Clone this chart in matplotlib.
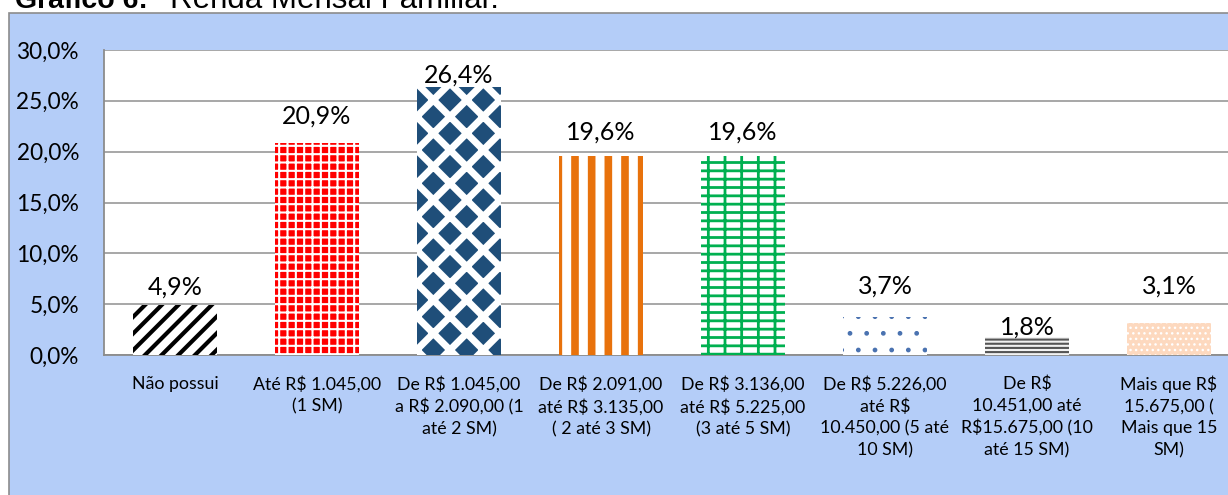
import numpy as np
import matplotlib
matplotlib.use("Agg")
import matplotlib.pyplot as plt
from matplotlib.patches import Rectangle

# data
categories = [
    "Não possui",
    "Até R$ 1.045,00\n(1 SM)",
    "De R$ 1.045,00\na R$ 2.090,00 (1\naté 2 SM)",
    "De R$ 2.091,00\naté R$ 3.135,00\n( 2 até 3 SM)",
    "De R$ 3.136,00\naté R$ 5.225,00\n(3 até 5 SM)",
    "De R$ 5.226,00\naté R$\n10.450,00 (5 até\n10 SM)",
    "De R$\n10.451,00 até\nR$15.675,00 (10\naté 15 SM)",
    "Mais que R$\n15.675,00 (\nMais que 15\nSM)",
]
values = [4.9, 20.9, 26.4, 19.6, 19.6, 3.7, 1.8, 3.1]
yticks = [0, 5, 10, 15, 20, 25, 30]

# styling per bar: facecolor, hatch colour, hatch, hatch linewidth
styles = [
    ("white", "black", "//", 3.0),
    ("#FF0000", "white", "++", 1.5),
    ("#1F4E79", "white", "x", 5.0),
    ("white", "#E8720C", "|", 5.5),
    ("white", "#00B050", "--|", 2.0),
    ("white", "#4A72B0", ".", 1.0),
    ("#F2F2F2", "#555555", "----", 1.5),
    ("#FDD9BF", "white", "...", 1.0),
]
# data label heights (manually placed in the original)
label_y = [6.7, 23.5, 27.5, 21.9, 21.9, 6.8, 2.75, 6.8]

plt.rcParams['font.family'] = ['Lato', 'DejaVu Sans']

W, H = 1228, 495
fig = plt.figure(figsize=(W / 100, H / 100), dpi=100)
fig.patch.set_facecolor("white")

# chart area
bg = Rectangle((9 / W, -0.1), 1.2, 1 - 13 / H + 0.1, transform=fig.transFigure,
               facecolor="#B4CDF8", edgecolor="#8C8C8C", linewidth=1.2, zorder=-5)
fig.patches.append(bg)

# title (cut off at top in the original)
fig.text(15 / W, 1 - 8 / H, "Gráfico 6:", family="Liberation Sans",
         fontweight="bold", fontsize=20.5, va="baseline", ha="left")
fig.text(170 / W, 1 - 8 / H, "Renda Mensal Familiar.", family="Liberation Sans",
         fontsize=22.5, va="baseline", ha="left")

ax = fig.add_axes([104 / W, 1 - 355 / H, 1136 / W, 305 / H])
ax.set_facecolor("white")
x = np.arange(len(values))
for i, v in enumerate(values):
    fc, hc, hatch, hlw = styles[i]
    plt.rcParams['hatch.linewidth'] = hlw
    b = ax.bar(x[i], v, width=0.585, facecolor=fc, edgecolor=hc, hatch=hatch,
               linewidth=0, zorder=3)
    for p in b:
        if hasattr(p, "set_hatch_linewidth"):
            p.set_hatch_linewidth(hlw)
    ax.text(x[i], label_y[i], f"{v:.1f}%".replace(".", ","), ha="center", va="center",
            fontsize=18, zorder=5)

ax.set_xlim(-0.5, len(values) - 0.5)
ax.set_ylim(0, 30)
ax.set_yticks(yticks)
ax.set_yticklabels([f"{t:.1f}%".replace(".", ",") for t in yticks], fontsize=16.3)
ax.set_xticks(x)
ax.set_xticklabels([c.replace("$", r"\$") for c in categories], fontsize=12.8,
                   linespacing=1.42, va="top")
ax.tick_params(axis="y", length=0, pad=18)
ax.tick_params(axis="x", length=0, pad=15)
ax.yaxis.grid(True, color="#A0A0A0", linewidth=1.3, zorder=1)
ax.set_axisbelow(True)
for s in ["right", "top"]:
    ax.spines[s].set_visible(False)
for s in ["left", "bottom"]:
    ax.spines[s].set_color("#8C8C8C")
    ax.spines[s].set_linewidth(1.3)

fig.savefig("out.png", dpi=100)
